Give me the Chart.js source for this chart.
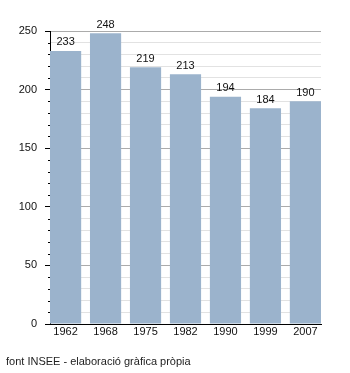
<!DOCTYPE html>
<html>
<head>
<meta charset="utf-8">
<script src="https://cdn.jsdelivr.net/npm/chart.js@4/dist/chart.umd.min.js"></script>
<style>
  html, body { margin: 0; padding: 0; background: #fff; }
  #wrap { position: relative; width: 350px; height: 373px; }
  #src { position: absolute; left: 6px; top: 355px; font: 11px "Liberation Sans", Arial, sans-serif; color: #222; }
</style>
</head>
<body>
<div id="wrap">
  <canvas id="ch" width="350" height="373"></canvas>
  <div id="src">font INSEE - elaboració gràfica pròpia</div>
</div>
<script>
// Population by census year
const years = ['1962', '1968', '1975', '1982', '1990', '1999', '2007'];
const population = [233, 248, 219, 213, 194, 184, 190];
const yTicks = [0, 50, 100, 150, 200, 250];

const FONT = { family: '"Liberation Sans", Arial, sans-serif', size: 11 };
const BAR = '#9bb3cc';

// value above each bar + short minor ticks on the y axis
const extras = {
  id: 'extras',
  afterDatasetsDraw(chart) {
    const { ctx } = chart;
    const meta = chart.getDatasetMeta(0);
    ctx.save();
    ctx.font = `${FONT.size}px ${FONT.family}`;
    ctx.fillStyle = '#111';
    ctx.textAlign = 'center';
    ctx.textBaseline = 'bottom';
    meta.data.forEach((bar, i) => ctx.fillText(population[i], bar.x, bar.y - 3));
    const y = chart.scales.y;
    const x0 = chart.chartArea.left;
    ctx.strokeStyle = '#000';
    ctx.lineWidth = 1;
    for (let v = 0; v <= 250; v += 10) {
      if (v % 50 === 0) continue;
      const py = Math.round(y.getPixelForValue(v)) + 0.5;
      ctx.beginPath();
      ctx.moveTo(x0 - 2, py);
      ctx.lineTo(x0, py);
      ctx.stroke();
    }
    ctx.restore();
  }
};

new Chart(document.getElementById('ch'), {
  type: 'bar',
  data: {
    datasets: [{
      data: population.map((v, i) => ({ x: i, y: v })),
      backgroundColor: BAR,
      barPercentage: 1,
      categoryPercentage: 0.78,
    }]
  },
  options: {
    responsive: false,
    animation: false,
    layout: { padding: { top: 31, right: 29, left: 0, bottom: 0 } },
    plugins: { legend: { display: false }, tooltip: { enabled: false } },
    scales: {
      x: {
        type: 'linear',
        offset: false,
        min: -0.39, max: 6.39,
        afterBuildTicks: s => { s.ticks = years.map((_, i) => ({ value: i })); },
        afterFit: s => { s.height = 49; },
        grid: { display: false, drawTicks: false },
        border: { color: '#000', width: 1 },
        ticks: {
          color: '#111', font: FONT, padding: 1, maxRotation: 0, autoSkip: false,
          callback: v => years[v]
        }
      },
      y: {
        min: 0, max: 250,
        ticks: {
          stepSize: 10, color: '#111', font: FONT, padding: 8, autoSkip: false,
          callback: v => (yTicks.includes(v) ? v : '')
        },
        afterFit: s => { s.width = 50; },
        border: { color: '#000', width: 1 },
        grid: {
          color: c => (c.tick && c.tick.value % 50 === 0 ? '#ababab' : '#e2e2e2'),
          tickColor: c => (c.tick && c.tick.value % 50 === 0 ? '#000' : 'rgba(0,0,0,0)'),
          tickLength: 5,
          lineWidth: 1
        }
      }
    }
  },
  plugins: [extras]
});
</script>
</body>
</html>
